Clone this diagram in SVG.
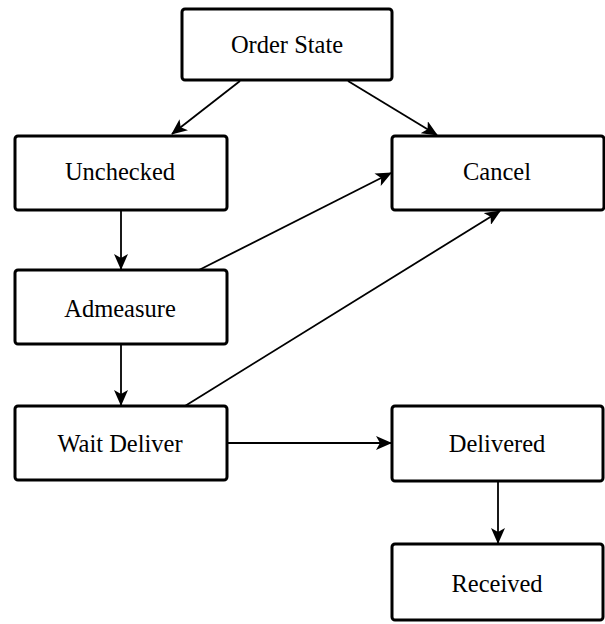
<svg xmlns="http://www.w3.org/2000/svg" width="605" height="624" viewBox="0 0 605 624">
<defs>
<marker id="ah" viewBox="0 0 16 14" refX="15" refY="7" markerWidth="16" markerHeight="14" markerUnits="userSpaceOnUse" orient="auto">
<path d="M0,0 L16,7 L0,14 L4,7 Z" fill="#000"/>
</marker>
</defs>
<style>
.n rect{fill:#fff;stroke:#000;stroke-width:3}
.n text{font-family:'Liberation Serif','Times New Roman',serif;font-size:24.5px;fill:#000;text-anchor:middle}
.c line{stroke:#000;stroke-width:1.8;marker-end:url(#ah)}
</style>
<rect width="605" height="624" fill="#fff"/>
<g class="c">
<line x1="240" y1="81" x2="172" y2="134"/>
<line x1="348" y1="81" x2="437" y2="135"/>
<line x1="121" y1="210" x2="121" y2="269"/>
<line x1="199" y1="270" x2="391" y2="173"/>
<line x1="121" y1="344" x2="121" y2="405"/>
<line x1="185" y1="406" x2="500" y2="211"/>
<line x1="228" y1="443" x2="391" y2="443"/>
<line x1="498" y1="481" x2="498" y2="543"/>
</g>
<g class="n" id="order-state"><rect x="182" y="9" width="210" height="71" rx="3"/><text x="287" y="53">Order State</text></g>
<g class="n" id="unchecked"><rect x="15" y="136" width="212" height="74" rx="3"/><text x="120" y="180">Unchecked</text></g>
<g class="n" id="cancel"><rect x="392" y="136" width="212" height="74" rx="3"/><text x="497" y="180">Cancel</text></g>
<g class="n" id="admeasure"><rect x="15" y="270" width="212" height="74" rx="3"/><text x="120" y="317">Admeasure</text></g>
<g class="n" id="wait-deliver"><rect x="15" y="406" width="212" height="74" rx="3"/><text x="120" y="452">Wait Deliver</text></g>
<g class="n" id="delivered"><rect x="392" y="406" width="211" height="75" rx="3"/><text x="497" y="452">Delivered</text></g>
<g class="n" id="received"><rect x="392" y="544" width="211" height="76" rx="3"/><text x="497" y="592">Received</text></g>
</svg>
